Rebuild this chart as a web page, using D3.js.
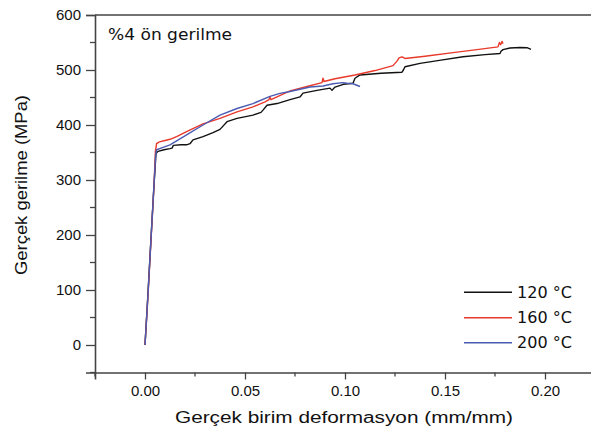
<!DOCTYPE html>
<html>
<head>
<meta charset="utf-8">
<script src="https://cdn.jsdelivr.net/npm/d3@7"></script>
<style>
  html, body { margin: 0; padding: 0; background: #fff; }
  svg { display: block; }
</style>
</head>
<body>
<svg id="chart" width="591" height="431"></svg>
<script>
// True stress–strain curves, [strain (mm/mm), stress (MPa)]
const series120 = [
  [0,0],[0.0015,95],[0.003,195],[0.0045,290],[0.0055,348],[0.0065,352],[0.0095,355],[0.0125,357],
  [0.0135,358],[0.0142,363],[0.018,364],[0.0208,364],[0.0225,366],[0.024,373],[0.029,379],
  [0.034,386],[0.0375,392],[0.039,398],[0.041,406],[0.046,412],[0.054,418],[0.058,423],[0.059,427],
  [0.061,436],[0.066,439],[0.0725,446],[0.0775,451],[0.079,458],[0.086,463],[0.0925,467],
  [0.0935,463],[0.095,469],[0.0992,474],[0.104,476],[0.105,485],[0.1075,491],[0.118,494],
  [0.1285,496],[0.1292,500],[0.13,506],[0.1375,512],[0.148,518],[0.159,524],[0.17,528],
  [0.1775,530],[0.178,534],[0.179,537],[0.1825,540],[0.1875,541],[0.191,540.5],[0.193,537.5]
];
const series160 = [
  [0,0],[0.0015,90],[0.003,190],[0.0045,290],[0.0052,352],[0.0058,366],[0.007,369],[0.009,371],
  [0.0125,374],[0.0158,379],[0.0208,388],[0.029,402],[0.0375,412],[0.046,424],[0.054,433],
  [0.06,442],[0.062,446],[0.0625,451],[0.063,446],[0.066,451],[0.0725,462],[0.081,470],
  [0.0885,477],[0.089,485],[0.0895,479],[0.095,484],[0.105,491],[0.115,499],[0.124,508],
  [0.1262,517],[0.127,522],[0.1285,524],[0.13,521],[0.14,525],[0.155,532],[0.166,537],
  [0.1765,542],[0.1772,550],[0.1778,546],[0.1785,552],[0.179,548]
];
const series200 = [
  [0,0],[0.0015,92],[0.003,192],[0.0045,292],[0.0053,345],[0.0058,355],[0.008,358],[0.0125,364],
  [0.0208,382],[0.029,400],[0.0375,418],[0.046,430],[0.054,439],[0.0625,452],[0.0675,457.6],
  [0.0725,461],[0.0825,469],[0.089,471],[0.094,475],[0.099,477],[0.101,476],[0.104,475],[0.1075,470]
];
const seriesNames = ["120 \u00B0C", "160 \u00B0C", "200 \u00B0C"];
const seriesColors = ["#111111", "#e8392b", "#4b5bb2"];
const xTicks = [0.00, 0.05, 0.10, 0.15, 0.20];
const xMinorTicks = [-0.025, 0.025, 0.075, 0.125, 0.175, 0.225];
const yTicks = [0, 100, 200, 300, 400, 500, 600];
const yMinorTicks = [-50, 50, 150, 250, 350, 450, 550];
const panelTitle = "%4 ön gerilme";
const xTitle = "Gerçek birim deformasyon (mm/mm)";
const yTitle = "Gerçek gerilme (MPa)";

const svg = d3.select("#chart");
const plotLeft = 95, plotTop = 15, plotRight = 592, plotBottom = 372.5;
const x = d3.scaleLinear().domain([-0.025, 0.2235]).range([plotLeft, plotRight]);
const y = d3.scaleLinear().domain([-50, 600]).range([plotBottom, plotTop]);
const axisColor = "#444";

// Curves
const line = d3.line().x(d => x(d[0])).y(d => y(d[1]));
[series120, series160, series200].forEach((s, i) => {
  svg.append("path").datum(s)
    .attr("fill", "none").attr("stroke", seriesColors[i])
    .attr("stroke-width", 1.4).attr("stroke-linejoin", "round")
    .attr("d", line);
});

// Frame: top border
svg.append("line").attr("x1", plotLeft).attr("x2", plotRight).attr("y1", plotTop).attr("y2", plotTop)
  .attr("stroke", axisColor).attr("stroke-width", 1.6);

// Left axis
const yAxis = d3.axisLeft(y).tickValues(yTicks).tickSize(9).tickPadding(5).tickFormat(d3.format("d"));
const gy = svg.append("g").attr("transform", `translate(${plotLeft},0)`).call(yAxis);
gy.select(".domain").attr("stroke", axisColor).attr("stroke-width", 1.6);
gy.selectAll(".tick line").attr("stroke", axisColor).attr("stroke-width", 1.3);
gy.selectAll(".tick text").attr("font-family", "Liberation Sans, Arial, sans-serif")
  .attr("font-size", 15).attr("fill", "#111");
gy.selectAll(".minor").data(yMinorTicks).enter().append("line").attr("class", "minor")
  .attr("x1", -5).attr("x2", 0).attr("y1", d => y(d)).attr("y2", d => y(d))
  .attr("stroke", axisColor).attr("stroke-width", 1.3);

// Bottom axis
const xAxis = d3.axisBottom(x).tickValues(xTicks).tickSize(7).tickPadding(6).tickFormat(d3.format(".2f"));
const gx = svg.append("g").attr("transform", `translate(0,${plotBottom})`).call(xAxis);
gx.select(".domain").attr("stroke", axisColor).attr("stroke-width", 1.6);
gx.selectAll(".tick line").attr("stroke", axisColor).attr("stroke-width", 1.3);
gx.selectAll(".tick text").attr("font-family", "Liberation Sans, Arial, sans-serif")
  .attr("font-size", 15).attr("fill", "#111");
gx.selectAll(".minor").data(xMinorTicks).enter().append("line").attr("class", "minor")
  .attr("x1", d => x(d)).attr("x2", d => x(d)).attr("y1", 0).attr("y2", 4)
  .attr("stroke", axisColor).attr("stroke-width", 1.3);

// Axis titles
svg.append("text").attr("x", 344).attr("y", 423).attr("text-anchor", "middle")
  .attr("font-family", "Liberation Sans, Arial, sans-serif").attr("font-size", 16)
  .attr("textLength", 338).attr("lengthAdjust", "spacingAndGlyphs")
  .attr("fill", "#111").text(xTitle);
svg.append("text").attr("transform", "translate(27,185) rotate(-90)").attr("text-anchor", "middle")
  .attr("font-family", "Liberation Sans, Arial, sans-serif").attr("font-size", 17)
  .attr("textLength", 180).attr("lengthAdjust", "spacingAndGlyphs")
  .attr("fill", "#111").text(yTitle);

// Panel label
svg.append("text").attr("x", 108).attr("y", 40)
  .attr("font-family", "DejaVu Sans, Verdana, sans-serif").attr("font-size", 16)
  .attr("textLength", 124).attr("lengthAdjust", "spacingAndGlyphs")
  .attr("fill", "#111").text(panelTitle);

// Legend
const legendY = [292.3, 317.7, 342.7];
const lg = svg.append("g");
seriesNames.forEach((name, i) => {
  lg.append("line").attr("x1", 464).attr("x2", 512).attr("y1", legendY[i]).attr("y2", legendY[i])
    .attr("stroke", seriesColors[i]).attr("stroke-width", 1.4);
  lg.append("text").attr("x", 517).attr("y", legendY[i]).attr("dy", "0.36em")
    .attr("font-family", "DejaVu Sans, Verdana, sans-serif").attr("font-size", 15.5)
    .attr("textLength", 55).attr("lengthAdjust", "spacingAndGlyphs")
    .attr("fill", "#111").text(name);
});
</script>
</body>
</html>
